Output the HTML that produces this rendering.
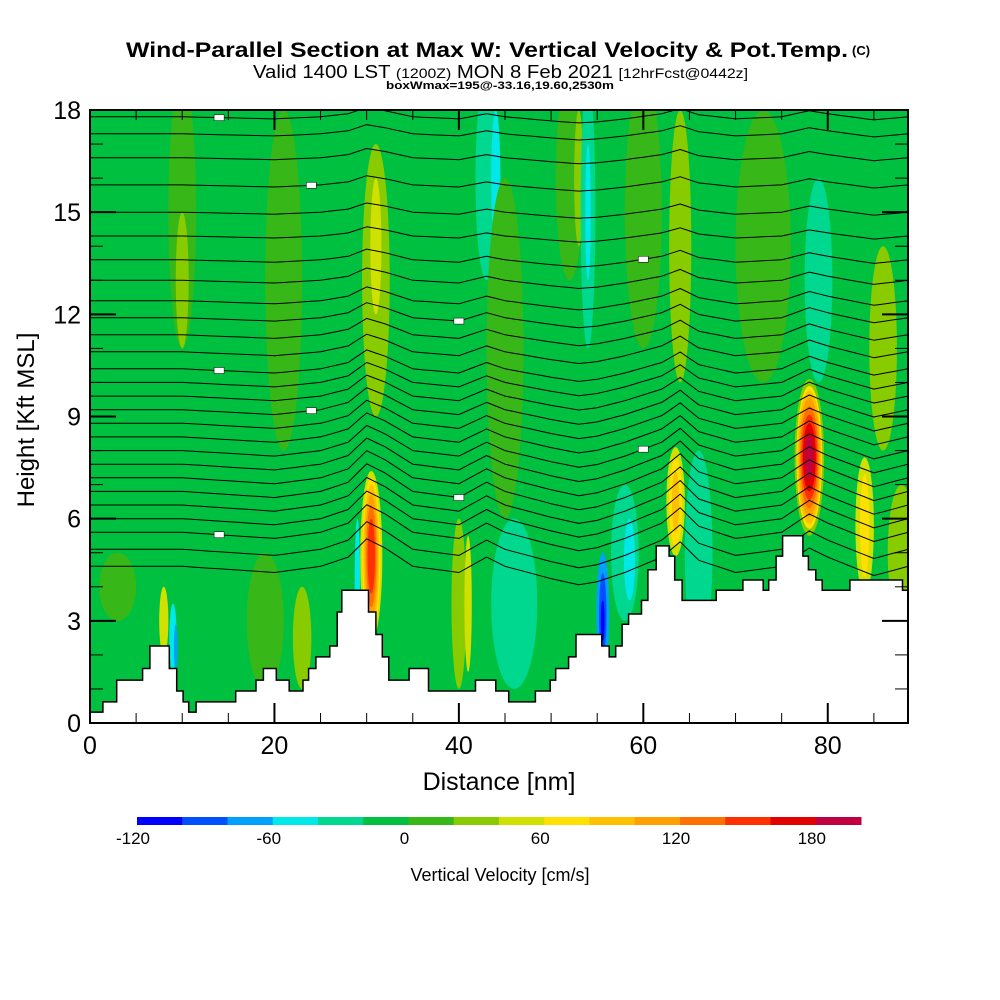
<!DOCTYPE html>
<html><head><meta charset="utf-8"><style>
body{margin:0;background:#fff;}
svg{display:block;font-family:"Liberation Sans",sans-serif;}
</style></head><body>
<svg id="chart" width="1000" height="1000" viewBox="0 0 1000 1000" xmlns="http://www.w3.org/2000/svg">
<defs><clipPath id="plotclip"><rect x="90" y="110" width="818" height="613"/></clipPath></defs>
<g>
<text x="126" y="57" font-size="21" font-weight="bold" textLength="722" lengthAdjust="spacingAndGlyphs">Wind-Parallel Section at Max W: Vertical Velocity &amp; Pot.Temp.</text>
<text x="852" y="55" font-size="13" font-weight="bold">(C)</text>
<text x="253" y="78" font-size="18" textLength="495" lengthAdjust="spacingAndGlyphs">Valid 1400 LST <tspan font-size="14">(1200Z)</tspan> MON 8 Feb 2021 <tspan font-size="14">[12hrFcst@0442z]</tspan></text>
<text x="386" y="89" font-size="11" font-weight="bold" textLength="228" lengthAdjust="spacingAndGlyphs">boxWmax=195@-33.16,19.60,2530m</text>
</g>
<g id="plot" clip-path="url(#plotclip)"></g>
<g id="axes"></g>
<g id="cbar"></g>
<text x="499" y="790" text-anchor="middle" font-size="25">Distance [nm]</text>
<text transform="translate(34,420) rotate(-90)" text-anchor="middle" font-size="24">Height [Kft MSL]</text>
<text x="500" y="881" text-anchor="middle" font-size="18">Vertical Velocity [cm/s]</text>
</svg>
<script>
const colorLevels=[-120,-100,-80,-60,-40,-20,0,20,40,60,80,100,120,140,160,180,200];
const colors=["#0000ff","#0050ff","#00a0ff","#00e8e8","#00d890","#00c040","#38b818","#88cc00","#d0e000","#ffe000","#ffc000","#ffa000","#ff7000","#ff3000","#e00000","#c00040"];
const cbarTicks=[-120,-60,0,60,120,180];
const xTicks=[0,20,40,60,80];
const yTicks=[0,3,6,9,12,15,18];
// streaks: x nm, center kft, half-width nm, half-height kft, color index
const streakX=[10,10,21,31,31,43,44,45,52,53,54,54,60,64,73,79,86,3,19,23,40,41,46,58,58.5,66,88,8,9,9.3,29,55.6,55.6,55.6,84,84,63.5,63.5,63.5,30.5,30.5,30.5,30.5,30.5,30.5,78,78,78,78,78,78,78,78];
const streakY=[15,13,13,13,14,16,16,11,16,16,15,15,15,14,14,13,11,4,3,2.5,3.5,3.5,3.5,5,4.8,5,5,3,2.5,2.2,4,3.2,3.2,3.0,5.8,5.8,6.5,6.5,6.5,4.9,4.9,4.9,4.9,4.9,4.9,7.8,7.8,7.8,7.8,7.8,7.8,7.8,7.8];
const streakW=[1.5,0.7,2,1.5,0.6,1.2,0.5,2,1.5,0.5,0.8,0.3,2,1.2,3,1.5,1.5,2,2,1,0.8,0.4,2.5,1.5,0.6,1.5,1.5,0.5,0.4,0.2,0.3,0.7,0.4,0.2,1,0.5,1,0.7,0.4,1.2,1.0,0.85,0.7,0.55,0.4,1.6,1.4,1.3,1.15,1.0,0.85,0.7,0.45];
const streakH=[4,2,5,4,2,3,2,5,3,2,4,2,4,4,4,3,3,1,2,1.5,2.5,2,2.5,2,1.2,3,2,1,1,0.7,2,1.8,1.2,0.6,2,1.5,1.6,1.3,0.9,2.5,2.3,2.1,1.8,1.5,1.1,2.3,2.1,1.95,1.75,1.5,1.25,1.0,0.65];
const streakC=[6,7,6,7,8,4,3,6,6,7,4,3,6,7,6,4,7,6,6,7,7,8,4,4,3,4,7,8,3,2,3,2,1,0,8,9,8,9,10,8,9,10,11,12,13,7,9,10,11,12,13,14,15];
// potential-temperature contours: height at left edge (kft)
const contourLevels=[17.8,17.3,16.6,15.8,15.0,14.3,13.6,13.0,12.4,11.9,11.4,10.9,10.4,10.0,9.6,9.2,8.8,8.4,8.0,7.6,7.2,6.8,6.4,6.0,5.6,5.1,4.6];
const bumpX=[0,5,10,15,20,25,28,30,32,35,40,43,45,50,53,55,58,62,64,66,70,75,78,80,85,88.7];
const bumpV=[0,0,0,-0.1,-0.2,0,0.3,0.9,0.6,0,-0.2,0.3,0,-0.4,-0.6,-0.5,-0.2,0.3,0.8,0.2,-0.2,0,0.6,0.3,-0.3,0];
// terrain steps: start distance (nm) and height (kft)
const terrStepX=[0,1.4,2.9,5.7,6.5,8.6,9.4,10.1,10.7,11.5,15.8,18.0,18.8,20.2,21.6,23.1,23.7,24.5,26.0,26.8,27.3,30.2,31.0,31.7,32.4,34.6,36.7,41.8,44.0,45.4,48.3,49.9,50.5,51.9,52.7,55.5,56.3,57.0,57.7,58.4,59.8,60.5,61.4,62.8,63.4,64.2,67.9,70.8,73.0,73.6,74.4,75.1,77.3,77.9,78.7,79.4,82.4,88.1];
const terrStepH=[0.32,0.62,1.26,1.6,2.26,1.6,0.94,0.62,0.32,0.62,0.94,1.26,1.6,1.26,0.94,1.26,1.6,1.94,2.26,3.26,3.9,3.26,2.6,1.94,1.26,1.6,0.94,1.26,0.94,0.62,0.94,1.26,1.6,1.94,2.6,2.26,1.94,2.26,2.9,3.2,3.6,4.5,5.2,4.9,4.2,3.6,3.9,4.2,3.9,4.2,4.9,5.5,4.9,4.5,4.2,3.9,4.2,3.9];

const NS="http://www.w3.org/2000/svg";
const X0=90,X1=908,Y0=723,Y1=110,XMAX=88.7,YMAX=18;
function sx(v){return X0+v*(X1-X0)/XMAX;}
function sy(v){return Y0-v*(Y0-Y1)/YMAX;}
function mk(tag,attrs,parent){const e=document.createElementNS(NS,tag);for(const k in attrs)e.setAttribute(k,attrs[k]);parent.appendChild(e);return e;}
const plot=document.getElementById('plot'),axes=document.getElementById('axes'),cbar=document.getElementById('cbar');
const bg=mk('rect',{x:X0,y:Y1,width:X1-X0,height:Y0-Y1,fill:colors[5]},plot);


for(let i=0;i<streakX.length;i++){
  const e=mk('ellipse',{cx:sx(streakX[i]),cy:sy(streakY[i]),rx:sx(streakW[i])-X0,ry:Y0-sy(streakH[i]),fill:colors[streakC[i]]},plot);
  
  
}
function bumpAt(x){for(let i=0;i<bumpX.length-1;i++){if(x>=bumpX[i]&&x<=bumpX[i+1]){const t=(x-bumpX[i])/(bumpX[i+1]-bumpX[i]);return bumpV[i]+t*(bumpV[i+1]-bumpV[i]);}}return 0;}
contourLevels.forEach((h,j)=>{
  const f=h>7?Math.max(0.3,0.9-(h-7)/12):0.9;
  let d='';
  for(let x=0;x<=XMAX+0.5;x+=1){const xx=Math.min(x,XMAX);const y=h+f*bumpAt(xx);d+=(x===0?'M':'L')+sx(xx).toFixed(1)+','+sy(y).toFixed(1);}
  const p=mk('path',{d:d,fill:'none',stroke:'#000','stroke-width':1,'stroke-linejoin':'round'},plot);
  
  
  if(j%3===0){const lx=[14,40,60,24][j%4];const ly=h+f*bumpAt(lx);
    const r=mk('rect',{x:sx(lx)-5,y:sy(ly)-3,width:10,height:6,fill:'#fff',stroke:'#000','stroke-width':0.5},plot);
    
    }
});
let td='M'+X0+','+Y0;
for(let i=0;i<terrStepX.length;i++){
  const xa=sx(terrStepX[i]).toFixed(1);const xb=(i+1<terrStepX.length?sx(terrStepX[i+1]):X1).toFixed(1);const yy=sy(terrStepH[i]).toFixed(1);
  td+='L'+xa+','+yy+'L'+xb+','+yy;
}
td+='L'+X1+','+Y0+'Z';
const terr=mk('path',{d:td,fill:'#fff',stroke:'#000','stroke-width':1.5},plot);


const frame=mk('rect',{x:X0,y:Y1,width:X1-X0,height:Y0-Y1,fill:'none',stroke:'#000','stroke-width':2},axes);


for(let v=0;v<=85;v+=5){const maj=v%20===0;const L=maj?20:10;
  mk('line',{x1:sx(v),x2:sx(v),y1:Y0,y2:Y0-L,stroke:'#000','stroke-width':maj?2:1},axes);
  mk('line',{x1:sx(v),x2:sx(v),y1:Y1,y2:Y1+L,stroke:'#000','stroke-width':maj?2:1},axes);}
for(let v=0;v<=18;v+=1){const maj=v%3===0;const L=maj?26:13;
  mk('line',{x1:X0,x2:X0+L,y1:sy(v),y2:sy(v),stroke:'#000','stroke-width':maj?2:1},axes);
  mk('line',{x1:X1,x2:X1-L,y1:sy(v),y2:sy(v),stroke:'#000','stroke-width':maj?2:1},axes);}
xTicks.forEach(v=>{const t=mk('text',{x:sx(v),y:754,'text-anchor':'middle','font-size':25},axes);t.textContent=v;
  
  });
yTicks.forEach(v=>{const t=mk('text',{x:81,y:sy(v)+9,'text-anchor':'end','font-size':25},axes);t.textContent=v;
  
  });
const CB0=137,CB1=861;
function cx(v){return CB0+(v-colorLevels[0])*(CB1-CB0)/(colorLevels[colorLevels.length-1]-colorLevels[0]);}
for(let i=0;i<colors.length;i++){
  const r=mk('rect',{x:cx(colorLevels[i]),y:817,width:cx(colorLevels[i+1])-cx(colorLevels[i])+0.5,height:8,fill:colors[i]},cbar);
  
  
}
cbarTicks.forEach(v=>{const t=mk('text',{x:cx(v)-4,y:844,'text-anchor':'middle','font-size':17},cbar);t.textContent=v;
  
  });
</script>
</body></html>
